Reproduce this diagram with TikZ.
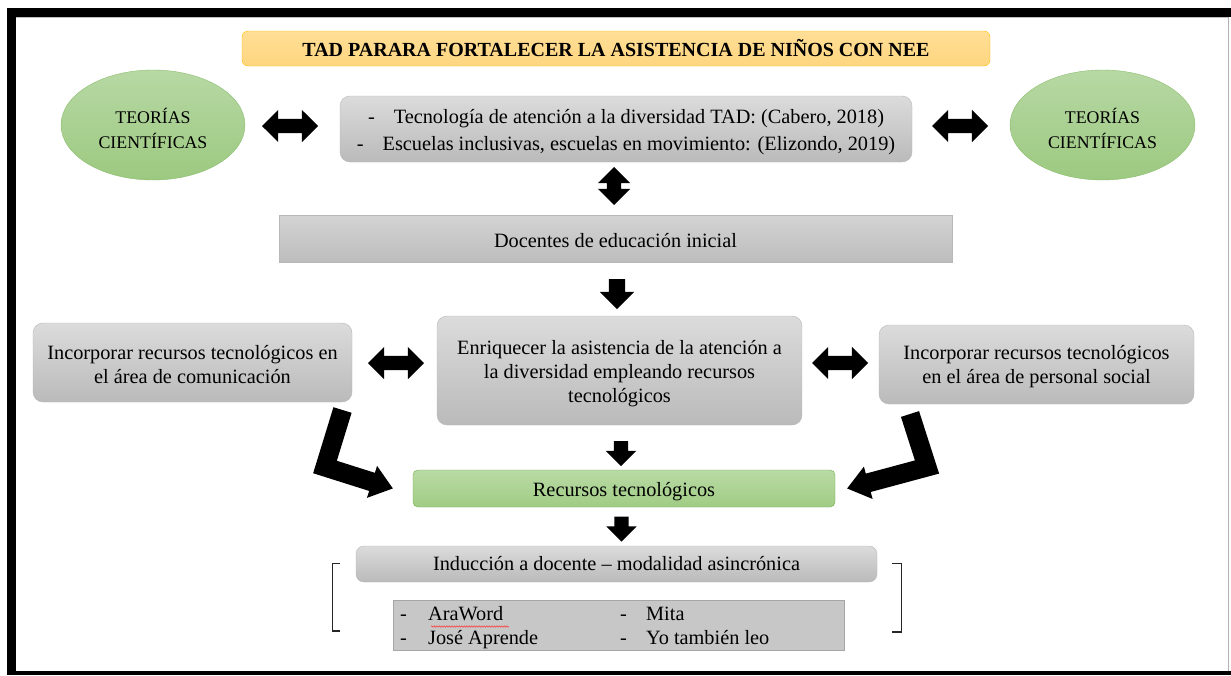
\documentclass[tikz,border=0pt]{standalone}
\usepackage{fontspec}
\setmainfont{Liberation Serif}
\usetikzlibrary{shapes.geometric,shapes.arrows,arrows.meta,decorations.pathmorphing,calc}
\newcommand{\dn}[1]{\rule{0pt}{#1}}
\begin{document}
\begin{tikzpicture}[x=1pt,y=-1pt,
  every node/.style={font=\fontsize{20.3}{24}\selectfont},
  greybox/.style={draw=black!28, top color=black!14, bottom color=black!27, rounded corners=10pt, inner sep=0pt, align=center},
  flatbox/.style={draw=black!28, top color=black!17, bottom color=black!26, inner sep=0pt, align=center},
  greenell/.style={ellipse, draw={rgb,255:red,140;green,190;blue,110}, top color={rgb,255:red,183;green,216;blue,164}, bottom color={rgb,255:red,156;green,201;blue,128}, inner sep=0pt, align=center, font=\fontsize{17.8}{25}\selectfont},
  greenbox/.style={draw={rgb,255:red,112;green,173;blue,71}, top color={rgb,255:red,185;green,218;blue,165}, bottom color={rgb,255:red,160;green,204;blue,132}, rounded corners=5pt, inner sep=0pt, align=center},
  dblarrow/.style={double arrow, fill=black, inner sep=7pt, double arrow head extend=9pt, minimum height=56pt},
  downarrow/.style={single arrow, fill=black, rotate=-90, inner sep=8pt, single arrow head extend=9pt},
  bent/.style={line width=19pt, line join=miter, -{Triangle[length=22pt,width=32pt]}},
  bracket/.style={draw=black!85, line width=1.1pt}
]
\fill[white] (0,0) rectangle (1231,675);
\useasboundingbox (0,0) rectangle (1231,675);
% frame
\fill[black] (7,8) rectangle (1231,16.5);
\fill[black] (7,8) rectangle (15.5,675);
\fill[black] (7,671) rectangle (1231,675);
\draw[black!30, line width=1pt] (1228.5,17) -- (1228.5,671);
\draw[black!25, line width=0.8pt] (16,17.5) -- (1228,17.5);

% title
\node[draw={rgb,255:red,255;green,192;blue,0}, top color={rgb,255:red,255;green,222;blue,150}, bottom color={rgb,255:red,255;green,214;blue,128}, rounded corners=6pt, minimum width=748pt, minimum height=35pt, inner sep=0pt, font=\fontsize{20}{24}\selectfont\bfseries] (title) at (616,48.5) {TAD PARARA FORTALECER LA ASISTENCIA DE NIÑOS CON NEE};

% ellipses
\node[greenell, minimum width=184pt, minimum height=110pt] (ellL) at (153,125) {\dn{21.5pt}TEORÍAS\\CIENTÍFICAS};
\node[greenell, minimum width=185pt, minimum height=110pt] (ellR) at (1102.5,125) {\dn{21.5pt}TEORÍAS\\CIENTÍFICAS};

% top box
\node[greybox, minimum width=572pt, minimum height=66pt] (top) at (626,129) {\dn{21pt}-\hspace{19pt}Tecnología de atención a la diversidad TAD: (Cabero, 2018)\\[3pt]-\hspace{19pt}Escuelas inclusivas, escuelas en movimiento: (Elizondo, 2019)};

\node[dblarrow] (dl1) at (290,126) {};
\node[dblarrow] (dr1) at (960,126) {};
\node[dblarrow, rotate=90, minimum height=38pt] (dv) at (614,186) {};

% docentes
\node[flatbox, minimum width=673pt, minimum height=47pt] (doc) at (615.5,238.5) {\dn{18pt}Docentes de educación inicial};

\node[downarrow, minimum height=30pt] (a1) at (617,290) {};

% middle row
\node[greybox, minimum width=319pt, minimum height=79pt] (left) at (192.5,362.5) {\dn{18.5pt}Incorporar recursos tecnológicos en\\el área de comunicación};
\node[greybox, minimum width=365pt, minimum height=109pt] (center) at (619.5,370.5) {\dn{20pt}Enriquecer la asistencia de la atención a\\la diversidad empleando recursos\\tecnológicos};
\node[greybox, minimum width=315pt, minimum height=79pt] (right) at (1036.5,364.5) {\dn{18.5pt}Incorporar recursos tecnológicos\\en el área de personal social};

\node[dblarrow] (dl2) at (396,363) {};
\node[dblarrow] (dr2) at (840,363) {};

\node[downarrow, minimum height=25pt, inner sep=7pt, single arrow head extend=8pt] (a2) at (621,450) {};

% recursos
\node[greenbox, minimum width=422pt, minimum height=37pt] (rec) at (624,488.5) {\dn{19.5pt}Recursos tecnológicos};

% bent arrows
\coordinate (bl1) at (342.5,410);
\coordinate (bl2) at (325,467);
\coordinate (bl3) at (393,488.5);
\draw[bent] (bl1) -- (bl2) -- (bl3);
\coordinate (br1) at (910,414);
\coordinate (br2) at (927,467);
\coordinate (br3) at (847,488.5);
\draw[bent] (br1) -- (br2) -- (br3);

\node[downarrow, minimum height=25pt, inner sep=7pt, single arrow head extend=8pt] (a3) at (621.5,525.5) {};

% induccion
\node[greybox, rounded corners=8pt, minimum width=521pt, minimum height=36pt] (ind) at (616.5,564) {Inducción a docente – modalidad asincrónica};

% brackets
\draw[bracket] (340,563.5) -- (332.5,563.5) -- (332.5,631) -- (340,631);
\draw[bracket] (892,563.5) -- (901.5,563.5) -- (901.5,632) -- (892,632);

% list
\node[draw=black!35, fill=black!22, minimum width=451pt, minimum height=50pt, inner sep=0pt] (list) at (618.5,625) {};
\node[anchor=west, inner sep=0pt] (listtext) at (400,628) {\def\arraystretch{1.0}\begin{tabular}{@{}p{28pt}@{}p{192pt}@{}p{26pt}@{}l@{}}
-&AraWord&-&Mita\\
-&José Aprende&-&Yo también leo
\end{tabular}};
\draw[red!80, line width=0.5pt, decorate, decoration={snake, amplitude=0.7pt, segment length=2.5pt}] (431,626.5) -- (509,626.5);
\end{tikzpicture}
\end{document}
